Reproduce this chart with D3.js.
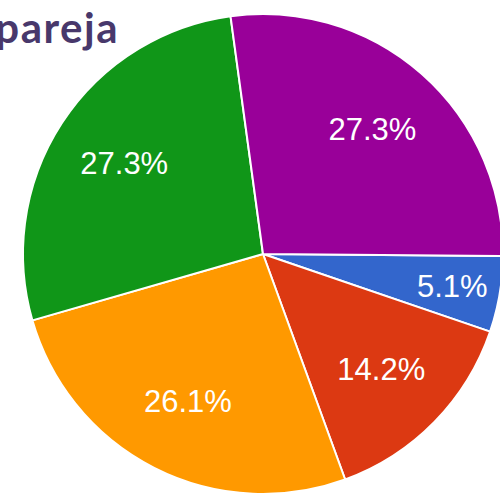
<!DOCTYPE html>
<html>
<head>
<meta charset="utf-8">
<script src="https://cdn.jsdelivr.net/npm/d3@7/dist/d3.min.js"></script>
<style>
  html, body { margin: 0; padding: 0; background: #ffffff; }
  svg { display: block; }
</style>
</head>
<body>
<script>
// Share of answers per category, in drawing order (clockwise)
const categories = ["A", "B", "C", "D", "E"];
const values = [5.1, 14.2, 26.1, 27.3, 27.3];
const colors = ["#3366cc", "#dc3912", "#ff9900", "#109618", "#990099"];
const titleText = "pareja";

const width = 500, height = 497;
const cx = 263, cy = 254, radius = 240;
const startDeg = 90.5;

const svg = d3.select("body").append("svg")
  .attr("width", width).attr("height", height);

const data = categories.map((c, i) => ({ name: c, value: values[i], color: colors[i] }));

const pie = d3.pie()
  .value(d => d.value)
  .sort(null)
  .startAngle(startDeg * Math.PI / 180)
  .endAngle((startDeg + 360) * Math.PI / 180);

const arcs = pie(data);

const arc = d3.arc().innerRadius(0).outerRadius(radius);

const g = svg.append("g").attr("transform", `translate(${cx},${cy})`);

g.selectAll("path.slice")
  .data(arcs)
  .join("path")
  .attr("class", "slice")
  .attr("d", arc)
  .attr("fill", d => d.data.color)
  .attr("stroke", "#ffffff")
  .attr("stroke-width", 2)
  .attr("stroke-linejoin", "round");

// Labels sit along each slice's bisector; narrow slices push their label outward
const labelArc = d => {
  const span = d.endAngle - d.startAngle;
  const r = span < 0.5 ? radius * 0.8 : radius * 0.69;
  return d3.arc().innerRadius(r).outerRadius(r).centroid(d);
};

g.selectAll("text.pct")
  .data(arcs)
  .join("text")
  .attr("class", "pct")
  .attr("transform", d => `translate(${labelArc(d)})`)
  .attr("text-anchor", "middle")
  .attr("dominant-baseline", "central")
  .attr("fill", "#ffffff")
  .attr("font-family", "Liberation Sans, Arial, sans-serif")
  .attr("font-size", 31)
  .text(d => d.data.value.toFixed(1) + "%");

// Title fragment at the top-left corner
svg.append("text")
  .attr("x", 119)
  .attr("y", 43)
  .attr("text-anchor", "end")
  .attr("fill", "#48386b")
  .attr("font-family", "Lato, sans-serif")
  .attr("font-weight", 700)
  .attr("font-size", 42)
  .attr("letter-spacing", 1.5)
  .text(titleText);
</script>
</body>
</html>
